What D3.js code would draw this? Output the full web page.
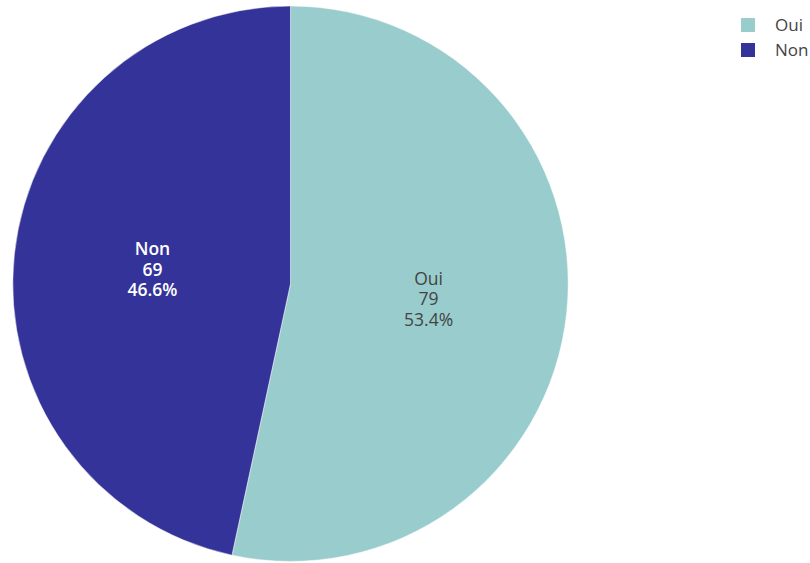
<!DOCTYPE html>
<html>
<head>
<meta charset="utf-8">
<script src="https://cdn.jsdelivr.net/npm/d3@7"></script>
<style>
  html, body { margin: 0; padding: 0; background: #fff; }
  svg { display: block; font-family: "Open Sans", sans-serif; }
</style>
</head>
<body>
<svg id="chart" width="810" height="563"></svg>
<script>
const categories = ["Oui", "Non"];
const values = [79, 69];
const colors = ["#99CCCC", "#333399"];
const textColors = ["#444444", "#ffffff"];
const textWeights = ["normal", "600"];

const svg = d3.select("#chart");
const cx = 290.5, cy = 283.7, R = 277.7;

const total = d3.sum(values);
const data = categories.map((c, i) => ({ label: c, value: values[i], i }));

const pie = d3.pie().value(d => d.value).sort(null);
const arcs = pie(data);
const arc = d3.arc().innerRadius(0).outerRadius(R);
const labelArc = d3.arc().innerRadius(R * 0.5).outerRadius(R * 0.5);

const g = svg.append("g").attr("transform", `translate(${cx},${cy})`);

g.selectAll("path.slice")
  .data(arcs)
  .join("path")
  .attr("class", "slice")
  .attr("d", arc)
  .attr("fill", d => colors[d.data.i])
  .attr("stroke", "#ffffff")
  .attr("stroke-width", 0.5);

const fmt = d3.format(".1%");
const lineH = 20.5;
arcs.forEach(a => {
  const [x, y] = labelArc.centroid(a);
  const lines = [a.data.label, String(a.data.value), fmt(a.data.value / total)];
  const t = g.append("text")
    .attr("text-anchor", "middle")
    .attr("fill", textColors[a.data.i])
    .attr("font-weight", textWeights[a.data.i])
    .attr("font-size", 17.5);
  lines.forEach((s, k) => {
    t.append("tspan")
      .attr("x", x)
      .attr("y", y + (k - 1) * lineH + 7)
      .text(s);
  });
});

// legend
const legend = svg.append("g").attr("transform", "translate(741,18)");
categories.forEach((c, i) => {
  const row = legend.append("g").attr("transform", `translate(0,${i * 25})`);
  row.append("rect")
    .attr("x", 0).attr("y", 0)
    .attr("width", 14).attr("height", 14)
    .attr("fill", colors[i]);
  row.append("text")
    .attr("x", 34).attr("y", 13)
    .attr("fill", "#444444")
    .attr("font-size", 17)
    .text(c);
});
</script>
</body>
</html>
